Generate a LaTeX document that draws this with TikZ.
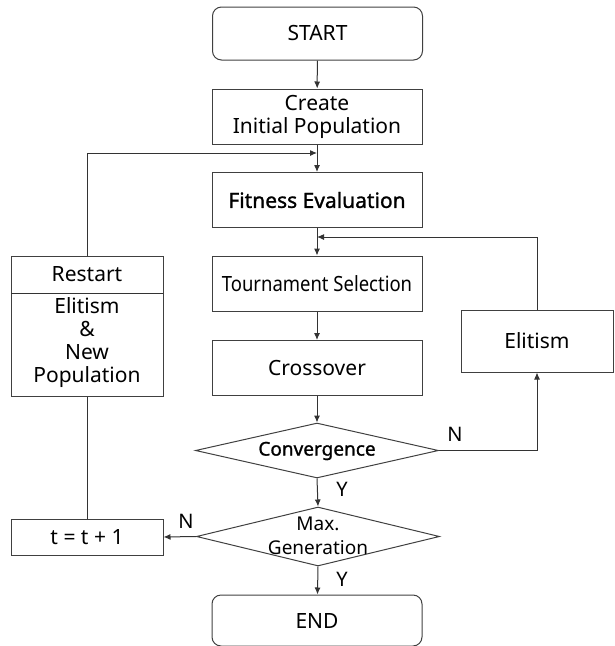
\documentclass[tikz,border=0pt]{standalone}
\usepackage{fontspec}
\usepackage{graphicx}
\setmainfont{Noto Sans}
\newfontfamily\bfake{Noto Sans}[FakeBold=1.2]
\usetikzlibrary{shapes.geometric,arrows.meta}
\begin{document}
\begin{tikzpicture}[x=1pt,y=-1pt,
  line width=1pt,
  box/.style={draw=black!75, line width=1pt, minimum width=210pt, minimum height=55pt, align=center, font=\fontsize{21}{23}\selectfont, inner sep=0pt},
  rbox/.style={box, rounded corners=9pt, minimum height=53pt},
  sbox/.style={draw=black!75, line width=1pt, minimum width=152pt, align=center, font=\fontsize{21}{23}\selectfont, inner sep=0pt},
  dia/.style={draw=black!75, line width=1pt, diamond, aspect=4, inner sep=0pt, align=center, font=\fontsize{19}{19}\selectfont},
  arr/.style={-{Latex[length=7pt,width=6pt]}, draw=black!80},
  ln/.style={draw=black!80},
  lab/.style={font=\fontsize{20}{20}\selectfont, inner sep=0pt}
]
\useasboundingbox (0,0) rectangle (614,646);
\node[rbox] (start) at (317.5,33.5) {START};
\node[box] (create) at (317,116.5) {Create\\Initial Population};
\node[box] (fit) at (317,200) {{\bfake Fitness Evaluation}};
\node[box] (tour) at (317,283.5) {\scalebox{0.88}[1]{Tournament Selection}};
\node[box] (cross) at (317,368) {Crossover};
\node[dia, minimum width=243pt, minimum height=55pt] (conv) at (317,450.5) {};
\node[font=\fontsize{19}{19}\selectfont\bfake, inner sep=0pt] (convt) at (317,451) {Convergence};
\node[dia, minimum width=243pt, minimum height=59pt] (maxg) at (318,536.5) {};
\node[font=\fontsize{19}{24}\selectfont, align=center, inner sep=0pt] (maxgt) at (318,536) {Max.\\Generation};
\node[rbox, minimum height=51pt] (end) at (317,620.5) {END};
\node[sbox, minimum height=140pt] (restart) at (87,326) {};
\coordinate (divL) at (11,293);
\coordinate (divR) at (163,293);
\node[font=\fontsize{21}{22}\selectfont, inner sep=0pt] (rtitle) at (87,274) {Restart};
\node[font=\fontsize{21}{23}\selectfont, align=center, inner sep=0pt] (rbody) at (87,343) {Elitism\\\&\\New\\Population};
\node[sbox, minimum height=62pt] (elit) at (537,341) {Elitism};
\node[sbox, minimum height=36pt] (tbox) at (87,537) {t = t + 1};
\draw[ln] (divL) -- (divR);
% main flow
\draw[arr] (start) -- (create);
\draw[arr] (create) -- (fit);
\draw[arr] (fit) -- (tour);
\draw[arr] (tour) -- (cross);
\draw[arr] (cross) -- (conv.north);
\draw[arr] (conv.south) -- (maxg.north);
\draw[arr] (maxg.south) -- (end);
% loops
\coordinate (j1) at (317,153);
\coordinate (j2) at (317,237);
\draw[arr] (restart.north) |- (j1);
\draw[arr] (elit.north) |- (j2);
\draw[arr] (conv.east) -| (elit.south);
\draw[arr] (maxg.west) -- (tbox.east);
\draw[ln] (tbox.north) -- (restart.south);
% labels
\node[lab] (n1) at (455,434) {N};
\node[lab] (y1) at (342,489) {Y};
\node[lab] (n2) at (186,521) {N};
\node[lab] (y2) at (342,579) {Y};
\end{tikzpicture}
\end{document}
